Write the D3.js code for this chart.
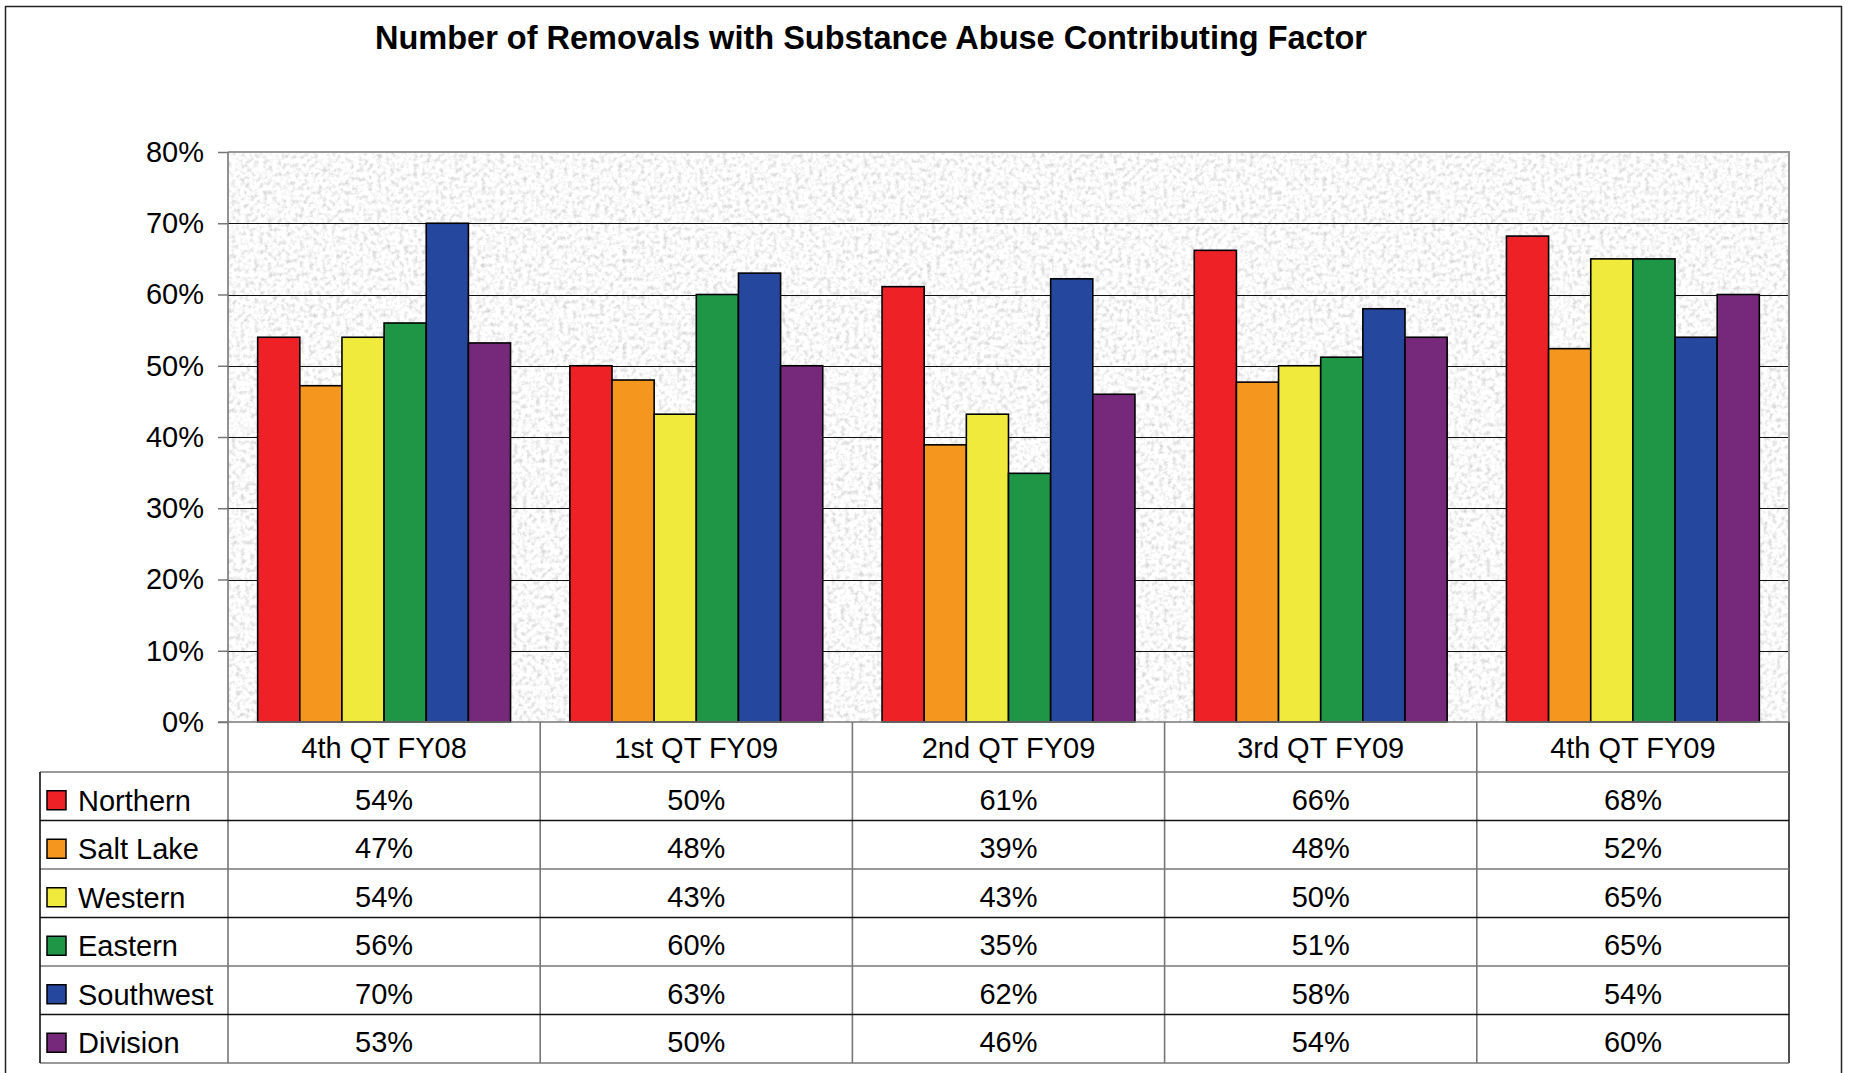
<!DOCTYPE html>
<html>
<head>
<meta charset="utf-8">
<script src="https://cdn.jsdelivr.net/npm/d3@7"></script>
<style>
body { margin: 0; background: #fff; }
text { font-family: "Liberation Sans", Arial, sans-serif; fill: #000; }
</style>
</head>
<body>
<div id="chart"></div>
<script>
// data
var quarters = ["4th QT FY08", "1st QT FY09", "2nd QT FY09", "3rd QT FY09", "4th QT FY09"];
var regions = ["Northern", "Salt Lake", "Western", "Eastern", "Southwest", "Division"];
var northern  = [0.54, 0.50, 0.611, 0.662, 0.682];
var saltLake  = [0.472, 0.48, 0.389, 0.477, 0.524];
var western   = [0.54, 0.432, 0.432, 0.50, 0.65];
var eastern   = [0.56, 0.60, 0.349, 0.512, 0.65];
var southwest = [0.70, 0.63, 0.622, 0.58, 0.54];
var division  = [0.532, 0.50, 0.46, 0.54, 0.60];
var yTicks = [0, 0.1, 0.2, 0.3, 0.4, 0.5, 0.6, 0.7, 0.8];

var series = [northern, saltLake, western, eastern, southwest, division];
var colors = ["#ee2226", "#f5961f", "#efea3b", "#1f9546", "#25479e", "#76287a"];

var width = 1849, height = 1073;
var pLeft = 228, pRight = 1789, pTop = 152, pBottom = 722;
var tableLeft = 40, headerH = 50, rowH = 48.5;

var svg = d3.select("#chart").append("svg")
  .attr("width", width)
  .attr("height", height);

// granite-ish texture for plot area
var defs = svg.append("defs");
var f = defs.append("filter").attr("id", "granite")
  .attr("x", 0).attr("y", 0).attr("width", 1).attr("height", 1);
f.append("feTurbulence")
  .attr("type", "fractalNoise")
  .attr("baseFrequency", 0.22)
  .attr("numOctaves", 3)
  .attr("seed", 4);
f.append("feColorMatrix")
  .attr("type", "matrix")
  .attr("values", "0.8 0 0 0 0.55  0.8 0 0 0 0.55  0.8 0 0 0 0.55  0 0 0 0 1");

// outer border
svg.append("rect")
  .attr("x", 5.5).attr("y", 6.5)
  .attr("width", 1836).attr("height", 1100)
  .attr("fill", "none")
  .attr("stroke", "#222")
  .attr("stroke-width", 1.5);

svg.append("text")
  .attr("x", 871).attr("y", 38)
  .attr("text-anchor", "middle")
  .attr("dominant-baseline", "central")
  .style("font-weight", "bold")
  .style("font-size", "32.5px")
  .text("Number of Removals with Substance Abuse Contributing Factor");

var x0 = d3.scaleBand()
  .domain(quarters)
  .range([pLeft, pRight])
  .paddingInner(0.19)
  .paddingOuter(0.095);

var x1 = d3.scaleBand()
  .domain(regions)
  .range([0, x0.bandwidth()]);

var y = d3.scaleLinear()
  .domain([0, 0.8])
  .range([pBottom, pTop]);

svg.append("rect")
  .attr("x", pLeft).attr("y", pTop)
  .attr("width", pRight - pLeft).attr("height", pBottom - pTop)
  .attr("filter", "url(#granite)");

// gridlines
svg.append("g")
  .selectAll("line")
  .data(yTicks.slice(1, -1))
  .enter().append("line")
    .attr("x1", pLeft).attr("x2", pRight)
    .attr("y1", function(d) { return Math.round(y(d)) + 0.5; })
    .attr("y2", function(d) { return Math.round(y(d)) + 0.5; })
    .attr("stroke", "#111")
    .attr("stroke-width", 1.2);

// plot border top / right
svg.append("path")
  .attr("d", "M" + pLeft + "," + pTop + "H" + pRight + "V" + pBottom)
  .attr("fill", "none")
  .attr("stroke", "#999")
  .attr("stroke-width", 2);

// bars
var groups = svg.append("g")
  .selectAll("g")
  .data(quarters)
  .enter().append("g")
    .attr("transform", function(q) { return "translate(" + x0(q) + ",0)"; });

groups.selectAll("rect")
  .data(function(q, i) {
    return regions.map(function(r, j) { return { region: r, value: series[j][i], c: colors[j] }; });
  })
  .enter().append("rect")
    .attr("x", function(d) { return x1(d.region); })
    .attr("y", function(d) { return y(d.value); })
    .attr("width", x1.bandwidth())
    .attr("height", function(d) { return pBottom - y(d.value); })
    .attr("fill", function(d) { return d.c; })
    .attr("stroke", "#000")
    .attr("stroke-width", 1.6);

// y axis
var yAxis = d3.axisLeft(y)
  .tickValues(yTicks)
  .tickFormat(d3.format(".0%"))
  .tickSize(10)
  .tickPadding(14);

var ya = svg.append("g")
  .attr("transform", "translate(" + pLeft + ",0)")
  .call(yAxis);
ya.select(".domain").remove();
ya.selectAll(".tick line").attr("stroke", "#777").attr("stroke-width", 1.5);
ya.selectAll(".tick text")
  .style("font-size", "29px")
  .style("font-family", "'Liberation Sans', Arial, sans-serif")
  .attr("fill", "#000");

// data table
var tableTop = pBottom + headerH;
var tableBottom = tableTop + rowH * regions.length;

var tbl = svg.append("g");

// header labels
tbl.selectAll(".cat")
  .data(quarters)
  .enter().append("text")
    .attr("class", "cat")
    .attr("x", function(q) { return x0(q) + x0.bandwidth() / 2; })
    .attr("y", pBottom + headerH / 2 + 1)
    .attr("text-anchor", "middle")
    .attr("dominant-baseline", "central")
    .style("font-size", "29px")
    .text(function(q) { return q; });

// vertical lines
var step = x0.step();
var bounds = d3.range(quarters.length + 1).map(function(k) { return pLeft + k * step; });
tbl.selectAll(".vline")
  .data(bounds)
  .enter().append("line")
    .attr("x1", function(d) { return d; })
    .attr("x2", function(d) { return d; })
    .attr("y1", function(d, i) { return i === 0 ? pTop : pBottom; })
    .attr("y2", tableBottom)
    .attr("stroke", function(d, i) { return i === bounds.length - 1 ? "#222" : "#777"; })
    .attr("stroke-width", 1.6);

// x axis line
tbl.append("line")
  .attr("x1", pLeft - 10).attr("x2", pRight)
  .attr("y1", pBottom).attr("y2", pBottom)
  .attr("stroke", "#777")
  .attr("stroke-width", 1.6);

// horizontal row lines
tbl.selectAll(".hline")
  .data(d3.range(regions.length + 1))
  .enter().append("line")
    .attr("x1", tableLeft).attr("x2", pRight)
    .attr("y1", function(i) { return tableTop + i * rowH; })
    .attr("y2", function(i) { return tableTop + i * rowH; })
    .attr("stroke", function(i) { return i % 2 === 0 ? "#777" : "#111"; })
    .attr("stroke-width", 1.6);

tbl.append("line")
  .attr("x1", tableLeft).attr("x2", tableLeft)
  .attr("y1", tableTop).attr("y2", tableBottom)
  .attr("stroke", "#111")
  .attr("stroke-width", 1.6);

var rows = tbl.selectAll(".row")
  .data(regions)
  .enter().append("g")
    .attr("transform", function(r, j) { return "translate(0," + (tableTop + j * rowH + rowH / 2) + ")"; });

rows.append("rect")
  .attr("x", 47).attr("y", -5.5)
  .attr("width", 19).attr("height", 19)
  .attr("fill", function(r, j) { return colors[j]; })
  .attr("stroke", "#000")
  .attr("stroke-width", 1.5);

rows.append("text")
  .attr("x", 78).attr("y", 14.5)
  .style("font-size", "29px")
  .text(function(r) { return r; });

rows.selectAll(".val")
  .data(function(r, j) { return quarters.map(function(q, i) { return { q: q, v: series[j][i] }; }); })
  .enter().append("text")
    .attr("x", function(d) { return x0(d.q) + x0.bandwidth() / 2; })
    .attr("y", 13.5)
    .attr("text-anchor", "middle")
    .style("font-size", "29px")
    .text(function(d) { return d3.format(".0%")(d.v); });
</script>
</body>
</html>
